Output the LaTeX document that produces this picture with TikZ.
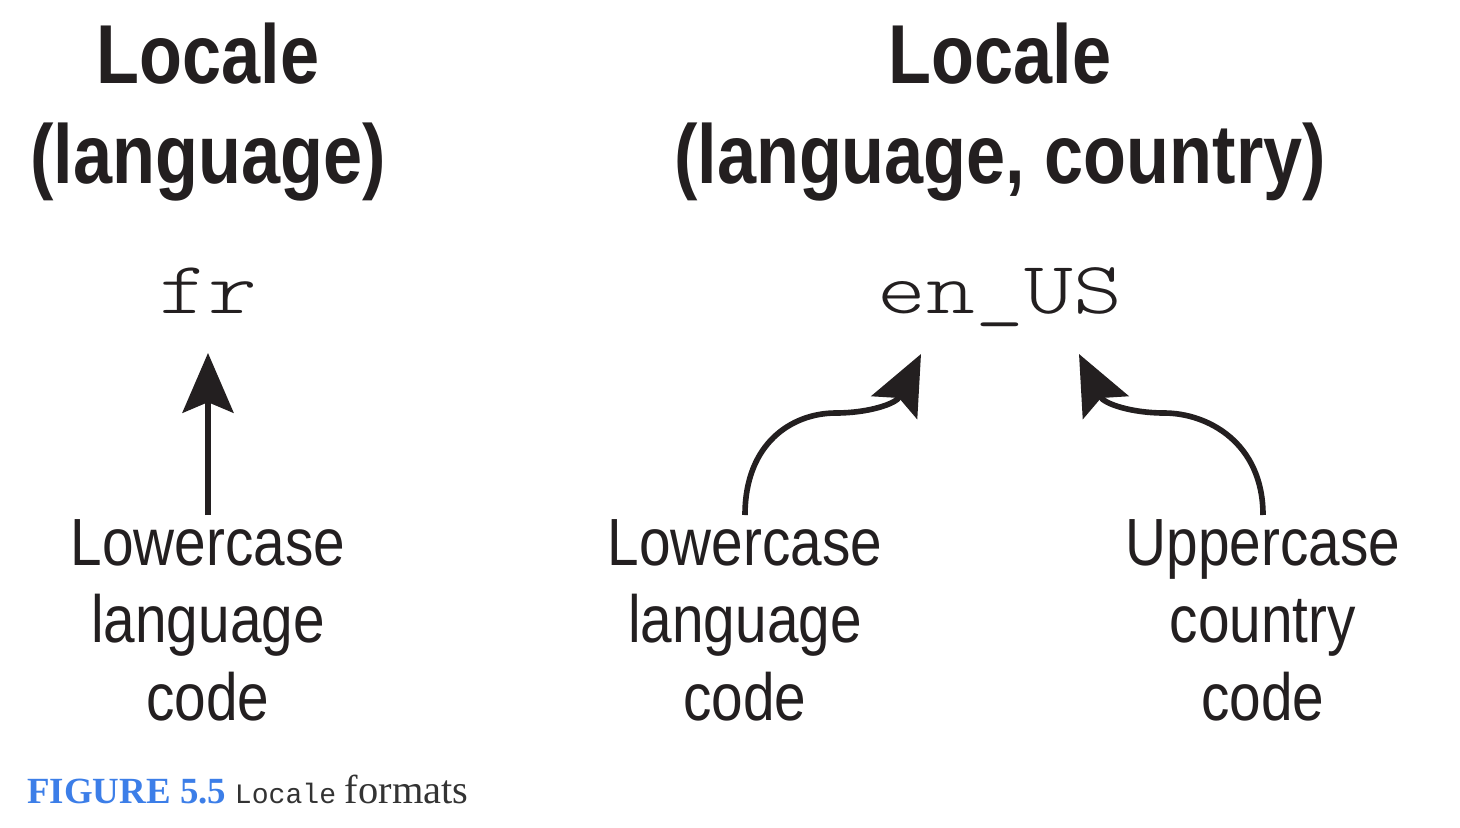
\documentclass[tikz,border=0pt]{standalone}
\usepackage{fontspec}
\usetikzlibrary{arrows.meta, positioning}
\setmainfont{Liberation Serif}
\newfontfamily\headfont{Liberation Sans}[FakeStretch=0.84]
\newfontfamily\descfont{Liberation Sans}[FakeStretch=0.85]
\newfontfamily\codefont{Latin Modern Mono Light}[FakeStretch=1.26]
\newfontfamily\capmono{Liberation Mono}
\definecolor{ink}{HTML}{231F20}
\definecolor{figblue}{RGB}{60,126,232}
\definecolor{capgrey}{HTML}{333333}

\begin{document}
\begin{tikzpicture}[x=0.02cm, y=-0.02cm,
  head/.style = {anchor=north, align=center, inner sep=0, text=ink, font=\headfont\bfseries\fontsize{47.6}{56.7}\selectfont},
  codetxt/.style = {anchor=base, inner sep=0, text=ink, font=\codefont\fontsize{42}{50}\selectfont},
  desc/.style = {anchor=north, align=center, inner xsep=0, inner ysep=2.3pt, text=ink, font=\descfont\fontsize{38}{44.2}\selectfont},
  arr/.style = {draw=ink, line width=3.2pt, -{Stealth[length=34pt, width=29pt, inset=6pt]}}]
      \useasboundingbox (0,0) rectangle (1460,828);

      % headings
      \node[head] (frhead) at (208,23)  {Locale\\(language)};
      \node[head] (enhead) at (1000,23) {Locale\\(language, country)};

      % locale codes
      \node[codetxt] (frcode) at (208,313)  {fr};
      \node[codetxt] (encode) at (1000,313) {en\_US};

      % descriptions
      \node[desc] (frdesc) at (208,515)  {Lowercase\\language\\code};
      \node[desc] (endesc) at (745,515)  {Lowercase\\language\\code};
      \node[desc] (usdesc) at (1263,515) {Uppercase\\country\\code};

      \coordinate (frtip) at (208,353);
      \coordinate (entip) at (921,354);
      \coordinate (ustip) at (1079,354);

      \draw[arr] (frdesc.north) -- (frtip);
      \draw[arr] (endesc.north) .. controls +(0,-72) and (792,413) .. (836,413)
                 .. controls (868,413) and (896,404) .. (entip);
      \draw[arr] (usdesc.north) .. controls +(0,-72) and (1208,413) .. (1164,413)
                 .. controls (1132,413) and (1104,404) .. (ustip);

      % caption
      \node[anchor=base west, inner sep=0, text=capgrey] (caption) at (27,803)
        {{\fontsize{21}{25}\selectfont\color{figblue}\bfseries FIGURE 5.5}\hspace{5pt}{\capmono\fontsize{16}{20}\selectfont Locale}\hspace{5pt}{\fontsize{23}{25}\selectfont formats}};
\end{tikzpicture}
\end{document}
